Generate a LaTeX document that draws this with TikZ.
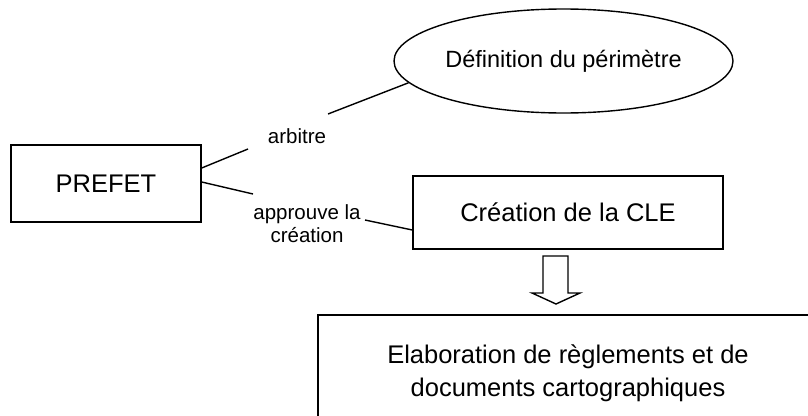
\documentclass[tikz,border=0pt]{standalone}
\usepackage{fontspec}
\setmainfont{Liberation Sans}
\usetikzlibrary{shapes.geometric}

\begin{document}
\begin{tikzpicture}[x=1pt, y=-1pt, line width=1.4pt,
        boite/.style={draw, rectangle, inner sep=0pt},
        grand/.style={font=\fontsize{25.5}{33}\selectfont},
        petit/.style={font=\fontsize{20.5}{23}\selectfont}]
        \useasboundingbox (0,0) rectangle (808,415);
        \clip (0,0) rectangle (808,415);
        % PREFET
        \node[boite, grand, minimum width=190pt, minimum height=77pt] (prefet) at (106,183.5) {PREFET};
        % Definition du perimetre
        \node[draw, ellipse, inner sep=0pt, minimum width=339pt, minimum height=104pt,
              font=\fontsize{23.5}{28}\selectfont] (perim) at (563.5,61) {Définition du périmètre};
        % Creation de la CLE
        \node[boite, grand, minimum width=310pt, minimum height=73pt] (cle) at (568,212.5) {Création de la CLE};
        % Elaboration
        \node[boite, grand, align=center, minimum width=500pt, minimum height=117pt] (elab) at (568,373.5)
            {Elaboration de règlements et de\\documents cartographiques};
        % labels
        \node[petit] (arb) at (297,136) {arbitre};
        \node[petit, align=center] (appr) at (307,224) {approuve la\\création};
        % connectors
        \coordinate (arbA) at (248,149);
        \coordinate (arbB) at (328,114);
        \coordinate (appA) at (253,194);
        \coordinate (appB) at (365,220);
        \draw ([yshift=15.5pt]prefet.east) -- (arbA);
        \draw (arbB) -- (perim.188);
        \draw ([yshift=1.5pt]prefet.east) -- (appA);
        \draw (appB) -- ([yshift=-17.5pt]cle.west);
        % hollow arrow
        \draw[line join=miter] (543,256) -- (568,256) -- (568,293) -- (580,293) -- (556,304)
            -- (532,293) -- (543,293) -- cycle;
    \end{tikzpicture}
\end{document}
